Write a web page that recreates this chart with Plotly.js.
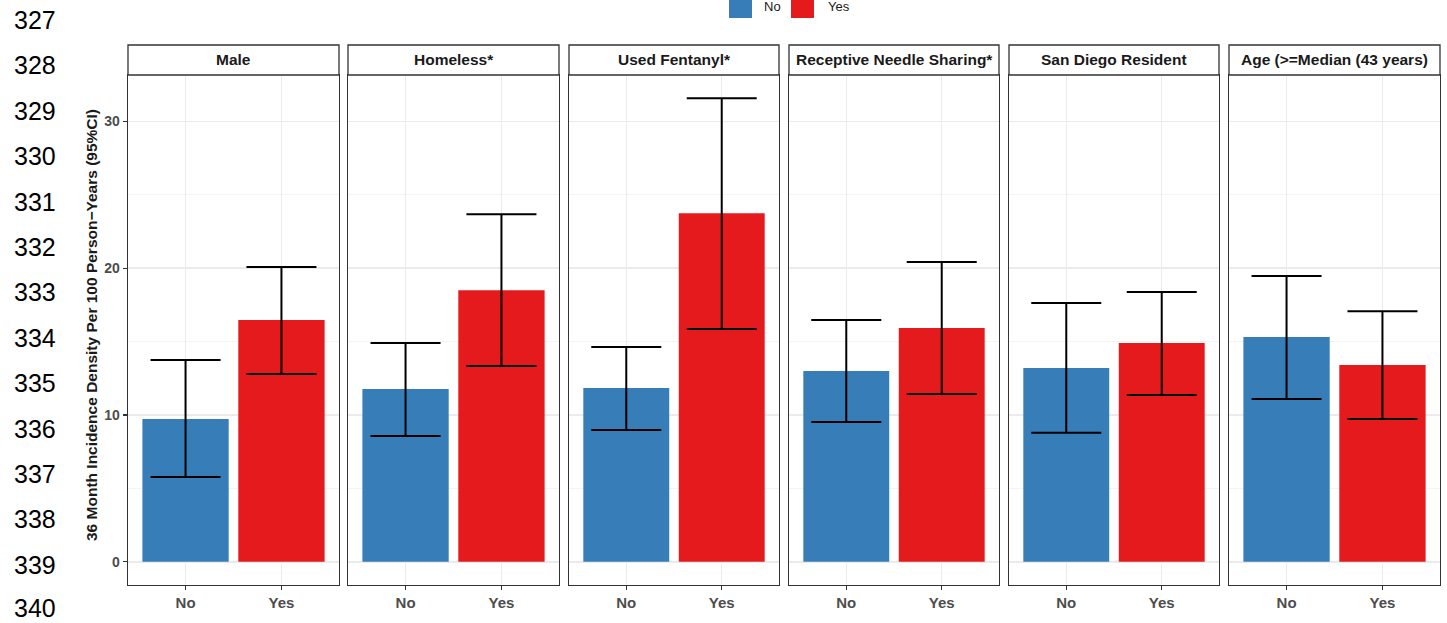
<!DOCTYPE html>
<html>
<head>
<meta charset="utf-8">
<script src="https://cdn.plot.ly/plotly-3.0.1.min.js"></script>
<style>html,body{margin:0;padding:0;background:#fff;}#chart{width:1447px;height:623px;}</style>
</head>
<body>
<div id="chart"></div>
<script>
// ---- data ----
const panels = ["Male", "Homeless*", "Used Fentanyl*", "Receptive Needle Sharing*", "San Diego Resident", "Age (>=Median (43 years)"];
const groups = ["No", "Yes"];
const estNo  = [9.73, 11.77, 11.84, 12.99, 13.20, 15.31];
const lowNo  = [5.78, 8.57, 8.98, 9.52, 8.78, 11.09];
const upNo   = [13.74, 14.90, 14.63, 16.46, 17.62, 19.46];
const estYes = [16.46, 18.50, 23.74, 15.92, 14.90, 13.40];
const lowYes = [12.79, 13.33, 15.85, 11.43, 11.36, 9.73];
const upYes  = [20.07, 23.67, 31.56, 20.41, 18.37, 17.07];
const yTicks = [0, 10, 20, 30];
const lineNumbers = [327,328,329,330,331,332,333,334,335,336,337,338,339,340];
const yTitle = "36 Month Incidence Density Per 100 Person\u2212Years (95%CI)";
const colors = {No: "#377EB8", Yes: "#E41A1C"};

// ---- layout helpers (pixel -> paper) ----
const W = 1447, H = 623;
const px = v => v / W;
const py = v => 1 - v / H;
const panelLeft  = [128, 348, 569, 789, 1009, 1229];
const panelRight = [339, 559, 779, 999, 1219, 1440];
const plotTop = 75, plotBottom = 585, stripTop = 45;
const FONT = "Liberation Sans, Arial, sans-serif";

const traces = [];
const layout = {
  width: W, height: H,
  margin: {l: 0, r: 0, t: 0, b: 0},
  paper_bgcolor: "#fff", plot_bgcolor: "#fff",
  showlegend: false,
  font: {family: FONT, color: "#1a1a1a"},
  shapes: [], annotations: []
};

panels.forEach((name, i) => {
  const n = i + 1;
  const xa = n === 1 ? "x" : "x" + n;
  const ya = n === 1 ? "y" : "y" + n;
  traces.push({
    type: "bar",
    x: groups,
    y: [estNo[i], estYes[i]],
    xaxis: xa, yaxis: ya,
    width: 0.9,
    marker: {color: [colors.No, colors.Yes], line: {width: 0}},
    error_y: {
      type: "data", symmetric: false,
      array: [upNo[i] - estNo[i], upYes[i] - estYes[i]],
      arrayminus: [estNo[i] - lowNo[i], estYes[i] - lowYes[i]],
      color: "#000", thickness: 2, width: 35
    },
    hoverinfo: "skip"
  });
  layout["xaxis" + (n === 1 ? "" : n)] = {
    domain: [px(panelLeft[i]), px(panelRight[i])],
    anchor: ya,
    type: "category",
    range: [-0.6, 1.6],
    showgrid: true, gridcolor: "#ebebeb", gridwidth: 1.5,
    showline: true, linecolor: "#333333", linewidth: 1.3, mirror: true,
    ticks: "outside", ticklen: 4, tickcolor: "#333333", tickwidth: 1.2,
    tickfont: {family: FONT, size: 15, color: "#4d4d4d", weight: "bold"},
    zeroline: false, fixedrange: true
  };
  layout["yaxis" + (n === 1 ? "" : n)] = {
    domain: [py(plotBottom), py(plotTop)],
    anchor: xa,
    range: [-1.58, 33.15],
    tickvals: yTicks,
    showticklabels: n === 1,
    ticks: n === 1 ? "outside" : "",
    ticklen: 4, tickcolor: "#333333", tickwidth: 1.2,
    tickfont: {family: FONT, size: 14, color: "#4d4d4d", weight: "bold"},
    showgrid: true, gridcolor: "#ebebeb", gridwidth: 1.5,
    minor: {dtick: 5, tick0: 0, showgrid: true, gridcolor: "#f4f4f4", gridwidth: 1},
    showline: true, linecolor: "#333333", linewidth: 1.3, mirror: true,
    zeroline: false, fixedrange: true
  };
  // strip
  layout.shapes.push({
    type: "rect", xref: "paper", yref: "paper",
    x0: px(panelLeft[i]), x1: px(panelRight[i]), y0: py(plotTop), y1: py(stripTop),
    fillcolor: "#fff", line: {color: "#333333", width: 1.3}
  });
  layout.annotations.push({
    xref: "paper", yref: "paper",
    x: px((panelLeft[i] + panelRight[i]) / 2), y: py((plotTop + stripTop) / 2),
    text: "<b>" + name.replace(/>/g, "&gt;") + "</b>", showarrow: false,
    font: {family: FONT, size: 15.5, color: "#1a1a1a"},
    xanchor: "center", yanchor: "middle"
  });
});

// y axis title
layout.annotations.push({
  xref: "paper", yref: "paper", x: px(91), y: py(325),
  text: "<b>" + yTitle + "</b>", textangle: -90, showarrow: false,
  font: {family: FONT, size: 15.5, color: "#1a1a1a"},
  xanchor: "center", yanchor: "middle"
});

// legend
const legendItems = [["No", 729, 762], ["Yes", 791, 826]];
legendItems.forEach(([lab, kx, tx]) => {
  layout.shapes.push({
    type: "rect", xref: "paper", yref: "paper",
    x0: px(kx), x1: px(kx + 23), y0: py(18), y1: py(-5),
    fillcolor: colors[lab], line: {width: 0}
  });
  layout.annotations.push({
    xref: "paper", yref: "paper", x: px(tx), y: py(6),
    text: lab, showarrow: false, xanchor: "left", yanchor: "middle",
    font: {family: FONT, size: 13, color: "#1a1a1a"}
  });
});

// line numbers at left
lineNumbers.forEach((num, k) => {
  layout.annotations.push({
    xref: "paper", yref: "paper", x: px(12), y: py(Math.min(20 + k * 45.4, 608)),
    text: String(num), showarrow: false, xanchor: "left", yanchor: "middle",
    font: {family: FONT, size: 25, color: "#000"}
  });
});

Plotly.newPlot("chart", traces, layout, {displayModeBar: false, staticPlot: true});
</script>
</body>
</html>
